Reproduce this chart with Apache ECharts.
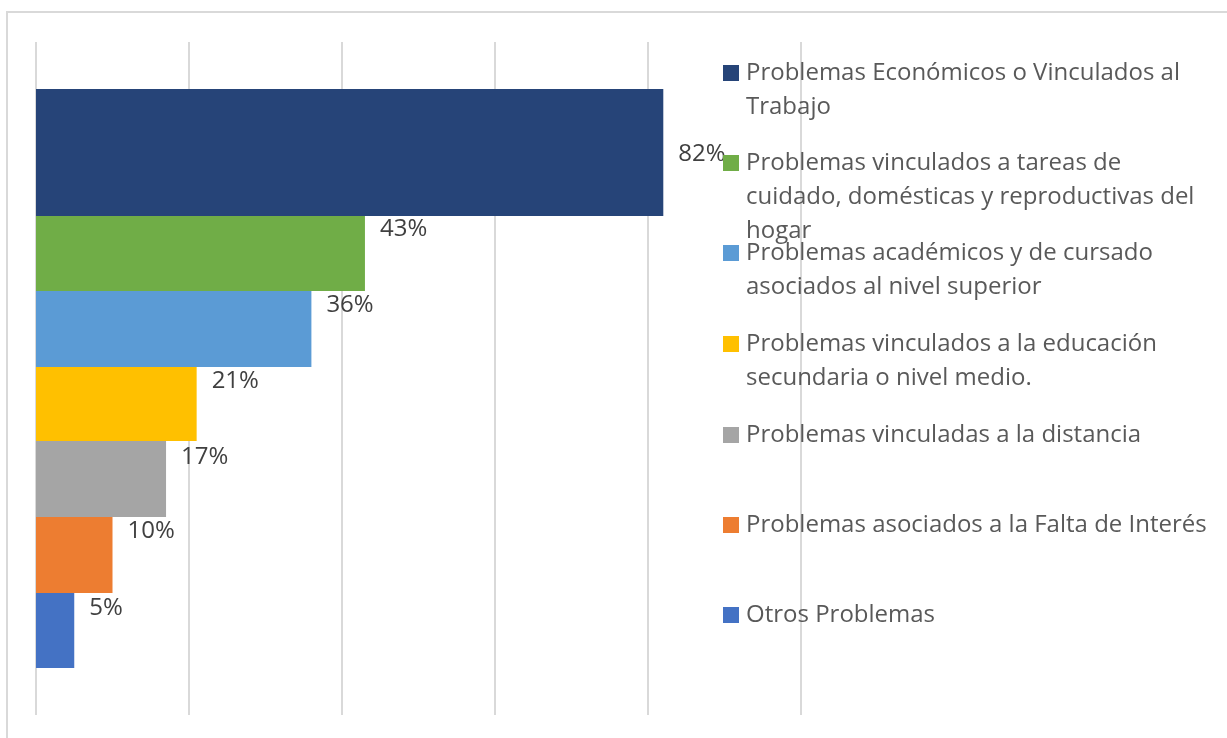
<!DOCTYPE html>
<html lang="es">
<head>
    <meta charset="UTF-8">
    <title>Problemas</title>
    <script src="https://cdn.jsdelivr.net/npm/echarts@6/dist/echarts.min.js"></script>
</head>
<body style="margin:0;">
<div id="main" style="width: 1227px;height:738px;"></div>

<script type="text/javascript">
  // datos
  var seriesNames = [
    'Problemas Económicos o Vinculados al\nTrabajo',
    'Problemas vinculados a tareas de\ncuidado, domésticas y reproductivas del\nhogar',
    'Problemas académicos y de cursado\nasociados al nivel superior',
    'Problemas vinculados a la educación\nsecundaria o nivel medio.',
    'Problemas vinculadas a la distancia',
    'Problemas asociados a la Falta de Interés',
    'Otros Problemas'
  ];
  var seriesValues = [0.82, 0.43, 0.36, 0.21, 0.17, 0.10, 0.05];
  var colors = ['#264478', '#70ad47', '#5b9bd5', '#ffc000', '#a5a5a5', '#ed7d31', '#4472c4'];

  // estilo
  var barWidths = [127, 75, 76, 74, 76, 76, 75];
  var labelDy = [2, -24, -24, -23, -22, -24, -22];
  var legendY = [73, 163, 253, 344, 435, 525, 615];
  var fontFamily = 'Open Sans';
  var fontSize = 24;
  var lineH = 34;

  var myChart = echarts.init(document.getElementById('main'));

  var series = [];
  var legends = [];
  for (var i = 0; i < seriesNames.length; i++) {
    series.push({
      name: seriesNames[i],
      type: 'bar',
      barWidth: barWidths[i],
      barGap: '0%',
      itemStyle: { color: colors[i] },
      label: {
        show: true,
        position: 'right',
        distance: 15,
        offset: [0, labelDy[i]],
        color: '#404040',
        fontFamily: fontFamily,
        fontSize: fontSize,
        formatter: function (p) { return Math.round(p.value * 100) + '%'; }
      },
      data: [seriesValues[i]]
    });
    var n = seriesNames[i].split('\n').length;
    legends.push({
      orient: 'vertical',
      left: 723,
      top: legendY[i] - (2 * n - 1) * lineH / 2,
      padding: 0,
      itemWidth: 16,
      itemHeight: 16,
      selectedMode: false,
      icon: 'rect',
      data: [seriesNames[i]],
      formatter: (function (k) {
        return function (name) { return new Array(k).join('\n') + name; };
      })(n),
      textStyle: {
        color: '#595959',
        fontFamily: fontFamily,
        fontSize: fontSize,
        lineHeight: lineH,
        padding: [0, 0, 0, 2]
      }
    });
  }

  option = {
    animation: false,
    backgroundColor: '#ffffff',
    grid: { left: 36, right: 426, top: 42, bottom: 23 },
    xAxis: {
      type: 'value',
      min: 0,
      max: 1,
      interval: 0.2,
      axisLine: { show: false },
      axisTick: { show: false },
      axisLabel: { show: false },
      splitLine: { lineStyle: { color: '#d9d9d9', width: 2 } }
    },
    yAxis: {
      type: 'category',
      inverse: true,
      data: [''],
      axisLine: { show: false },
      axisTick: { show: false },
      axisLabel: { show: false }
    },
    legend: legends,
    graphic: [{
      type: 'rect',
      silent: true,
      shape: { x: 7, y: 12, width: 1250, height: 760 },
      style: { fill: 'none', stroke: '#d9d9d9', lineWidth: 2 }
    }],
    series: series
  };

  myChart.setOption(option);
</script>
</body>
</html>
